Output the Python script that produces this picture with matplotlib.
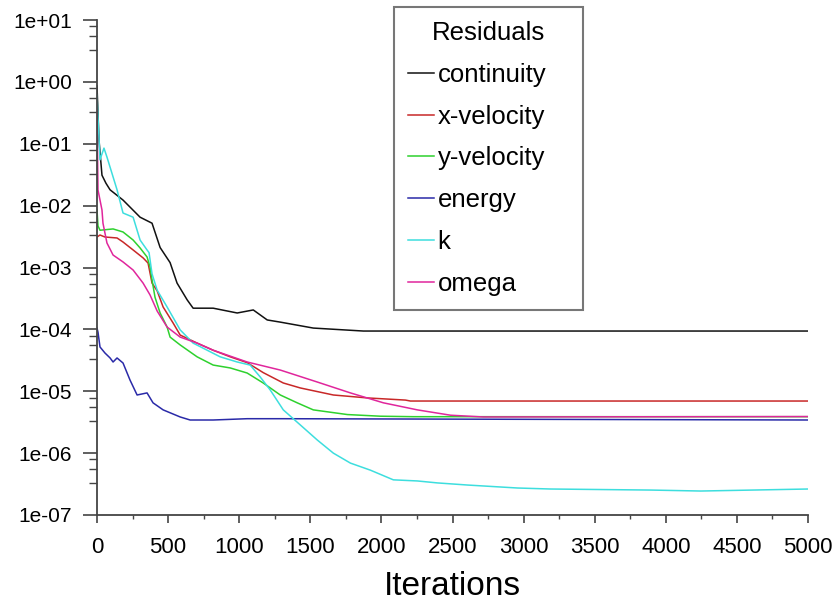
import matplotlib
matplotlib.use("Agg")
import matplotlib.pyplot as plt
from matplotlib.ticker import LogLocator, MultipleLocator, FuncFormatter, NullFormatter

plt.rcParams['font.family'] = ['Liberation Sans', 'DejaVu Sans']

# residual history
continuity_it = [0, 14, 35, 63, 92, 183, 303, 387, 444, 514, 563, 634, 676, 817, 986, 1099, 1197, 1289, 1521, 1873, 5000]
continuity = [0.86, 0.115, 0.031, 0.023, 0.018, 0.0123, 0.0065, 0.0052, 0.0021, 0.0012, 5.6e-4, 3.0e-4,
              2.2e-4, 2.2e-4, 1.84e-4, 2.06e-4, 1.42e-4, 1.31e-4, 1.05e-4, 9.4e-5, 9.4e-5]

xvel_it = [0, 21, 56, 141, 183, 254, 324, 359, 387, 423, 465, 535, 585, 704, 817, 937, 1056, 1169,
           1310, 1430, 1662, 1901, 2169, 2204, 5000]
xvel = [3.11e-3, 3.35e-3, 3.11e-3, 3.0e-3, 2.58e-3, 1.92e-3, 1.43e-3, 1.18e-3, 5.6e-4, 4.2e-4, 2.3e-4,
        1.27e-4, 8.1e-5, 6.0e-5, 4.6e-5, 3.6e-5, 2.9e-5, 2.0e-5, 1.36e-5, 1.13e-5, 8.7e-6, 7.8e-6,
        7.2e-6, 6.95e-6, 6.95e-6]

yvel_it = [0, 7, 21, 113, 183, 254, 303, 352, 373, 387, 408, 444, 493, 514, 585, 704, 817, 937, 1056,
           1169, 1289, 1408, 1521, 1761, 1993, 2225, 5000]
yvel = [8.5e-3, 4.7e-3, 4.0e-3, 4.2e-3, 3.75e-3, 2.78e-3, 2.07e-3, 1.48e-3, 1.02e-3, 6.3e-4, 3.3e-4,
        1.84e-4, 1.09e-4, 7.5e-5, 5.6e-5, 3.6e-5, 2.65e-5, 2.38e-5, 1.97e-5, 1.36e-5, 8.7e-6, 6.5e-6,
        5.0e-6, 4.2e-6, 3.95e-6, 3.88e-6, 3.88e-6]

energy_it = [0, 7, 21, 56, 92, 113, 141, 183, 232, 282, 352, 394, 465, 585, 655, 817, 1056, 1289, 5000]
energy = [1.05e-4, 9.0e-5, 5.2e-5, 4.15e-5, 3.45e-5, 2.97e-5, 3.45e-5, 2.86e-5, 1.52e-5, 8.7e-6,
          9.4e-6, 6.5e-6, 5.0e-6, 3.84e-6, 3.43e-6, 3.43e-6, 3.6e-6, 3.6e-6, 3.43e-6]

k_it = [0, 21, 49, 70, 141, 183, 254, 303, 352, 366, 387, 423, 493, 585, 676, 775, 866, 986, 1077, 1148,
        1218, 1310, 1430, 1549, 1662, 1782, 1923, 2084, 2253, 2394, 2606, 2958, 3190, 3894, 4246, 5000]
k = [0.61, 0.055, 0.085, 0.061, 0.018, 7.6e-3, 6.5e-3, 2.78e-3, 1.92e-3, 1.74e-3, 7.9e-4, 4.3e-4,
     2.3e-4, 9.8e-5, 6.0e-5, 4.6e-5, 3.6e-5, 2.97e-5, 2.65e-5, 1.7e-5, 1.05e-5, 5.0e-6, 2.85e-6,
     1.63e-6, 1.0e-6, 6.9e-7, 5.3e-7, 3.7e-7, 3.55e-7, 3.3e-7, 3.05e-7, 2.73e-7, 2.63e-7, 2.53e-7,
     2.44e-7, 2.63e-7]

omega_it = [0, 7, 35, 42, 70, 113, 183, 254, 324, 373, 423, 493, 585, 704, 817, 1056, 1289, 1549,
            1782, 2014, 2253, 2486, 2718, 5000]
omega = [0.35, 0.0179, 8.5e-3, 5.2e-3, 2.49e-3, 1.59e-3, 1.23e-3, 9.1e-4, 5.6e-4, 3.6e-4, 1.98e-4,
         1.09e-4, 7.5e-5, 6.0e-5, 4.6e-5, 2.97e-5, 2.2e-5, 1.41e-5, 9.4e-6, 6.5e-6, 5.0e-6, 4.1e-6,
         3.84e-6, 3.9e-6]

series = [
    ("continuity", continuity_it, continuity, "#111111"),
    ("x-velocity", xvel_it, xvel, "#c82828"),
    ("y-velocity", yvel_it, yvel, "#2ed12e"),
    ("energy", energy_it, energy, "#2a2aa8"),
    ("k", k_it, k, "#3ddede"),
    ("omega", omega_it, omega, "#e0269c"),
]

fig = plt.figure(figsize=(8.39, 6.03), dpi=100)
ax = fig.add_axes([97/839, 1 - 515/603, 711/839, 495/603])

for name, it, vals, col in series:
    ax.plot(it, vals, color=col, lw=1.1, label=name)

ax.set_yscale("log")
ax.set_xlim(0, 5000)
ax.set_ylim(1e-7, 1e1)

ax.spines["top"].set_visible(False)
ax.spines["right"].set_visible(False)
for s in ["left", "bottom"]:
    ax.spines[s].set_color("#444444")
    ax.spines[s].set_linewidth(1.3)

ax.xaxis.set_major_locator(MultipleLocator(500))
ax.xaxis.set_minor_locator(MultipleLocator(250))
ax.yaxis.set_major_locator(LogLocator(base=10, numticks=20))
ax.yaxis.set_minor_locator(LogLocator(base=10, subs=(3.3, 5.5, 7.9), numticks=20))
ax.yaxis.set_minor_formatter(NullFormatter())
ax.yaxis.set_major_formatter(FuncFormatter(lambda v, p: f"{v:.0e}"))

ax.tick_params(axis="y", which="major", length=10, width=1.2, color="#444444", labelsize=15, pad=8)
ax.tick_params(axis="y", which="minor", length=6, width=1.0, color="#444444")
ax.tick_params(axis="x", which="major", length=5.5, width=1.2, color="#444444", labelsize=16, pad=10)
ax.tick_params(axis="x", which="minor", length=3, width=1.0, color="#444444")

ax.set_xlabel("Iterations", fontsize=24, labelpad=10)

leg = fig.legend(loc="upper left", bbox_to_anchor=(394/839, 1 - 311/603, 189/839, 304/603),
                 mode="expand", borderaxespad=0, title="Residuals", fontsize=18.5, title_fontsize=18.5,
                 fancybox=False, frameon=True, borderpad=0.55, labelspacing=0.69,
                 handlelength=1.0, handletextpad=0.15)
leg.get_frame().set_edgecolor("#555555")
leg.get_frame().set_linewidth(1.5)

fig.savefig("out.png", dpi=100)
